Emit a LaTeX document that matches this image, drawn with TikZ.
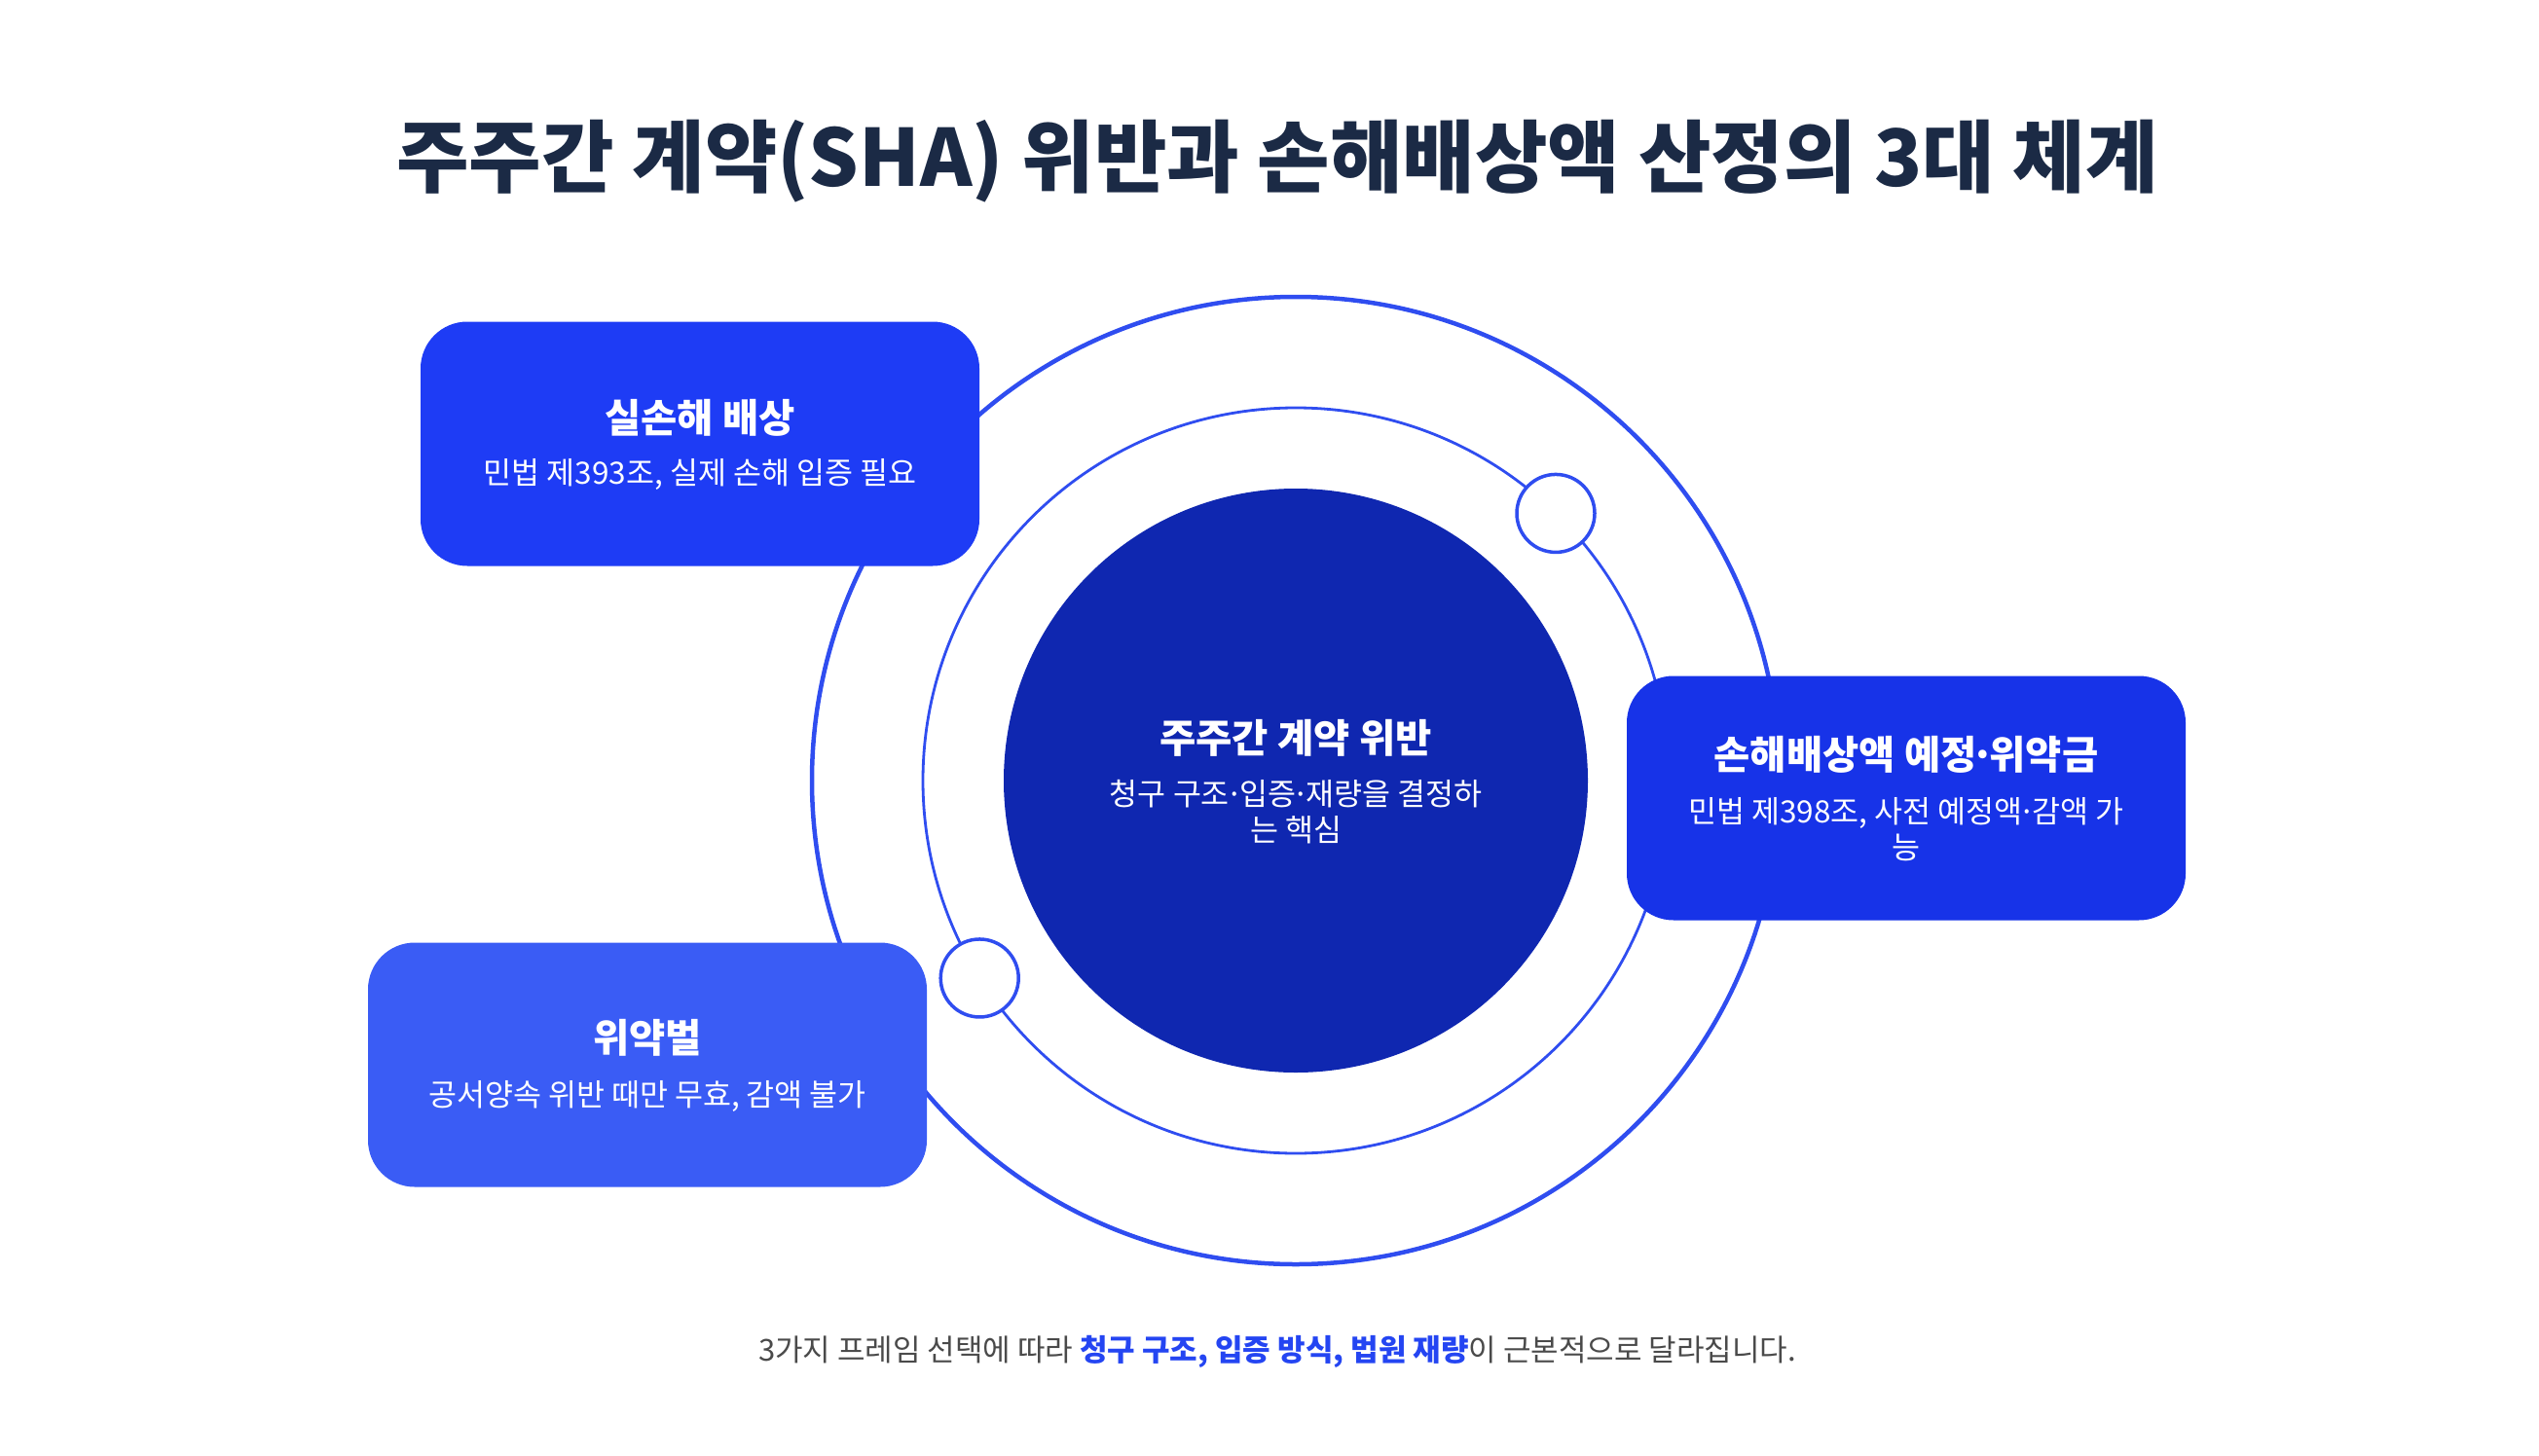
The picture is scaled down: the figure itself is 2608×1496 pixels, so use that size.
\documentclass[tikz,border=0pt]{standalone}
\usepackage{fontspec}
\setmainfont{Noto Sans CJK KR}
\definecolor{ink}{HTML}{1B2A45}
\definecolor{ring}{HTML}{2F4DF0}
\definecolor{core}{HTML}{0F27B0}
\definecolor{boxa}{HTML}{1E3CF5}
\definecolor{boxb}{HTML}{1733E8}
\definecolor{boxc}{HTML}{3A5CF5}
\definecolor{note}{HTML}{4A4A4A}
\definecolor{accent}{HTML}{2445F2}
\newcommand{\middot}{\makebox[0.32em][c]{·}}

\begin{document}
\begin{tikzpicture}[x=1pt,y=-1pt,
  every node/.style={inner sep=0pt,outer sep=0pt},
  orbit/.style={circle,draw=ring,minimum size=#1},
  card/.style={rounded corners=48pt,fill=#1,minimum width=574pt,minimum height=251pt},
  head/.style={text=white,font=\fontsize{40.5}{48}\selectfont\bfseries},
  sub/.style={text=white,align=center,font=\fontsize{31.5}{37}\selectfont},
  knot/.style={circle,draw=ring,line width=3.5pt,fill=white,minimum size=80pt}]
\useasboundingbox (0,0) rectangle (2608,1496);

\node[text=ink,font=\fontsize{81}{92}\selectfont\bfseries] (title) at (1312,166)
  {주주간 계약(SHA) 위반과 손해배상액 산정의 3대 체계};

\node[orbit=994pt,line width=4.5pt] (outer) at (1331,802) {};
\node[orbit=766pt,line width=2.8pt] (inner) at (outer) {};
\node[circle,fill=core,minimum size=600pt] (hub) at (outer) {};
\node[head] (hubhead) at (1331,758) {주주간 계약 위반};
\node[sub] (hubsub) at (1331,834) {청구 구조\middot 입증\middot 재량을 결정하\\는 핵심};

\node[card=boxa] (card1) at (719,456) {};
\node[head] (head1) at (719,429) {실손해 배상};
\node[sub] (sub1) at (719,487) {민법 제393조, 실제 손해 입증 필요};

\node[card=boxb] (card2) at (1958,820) {};
\node[head] (head2) at (1958,775) {손해배상액 예정\middot 위약금};
\node[sub] (sub2) at (1958,852) {민법 제398조, 사전 예정액\middot 감액 가\\능};

\node[card=boxc] (card3) at (665,1094) {};
\node[head] (head3) at (665,1066) {위약벌};
\node[sub] (sub3) at (665,1126) {공서양속 위반 때만 무효, 감액 불가};

\path (hub) ++ (-45.8:383) node[knot] (knot1) {};
\path (hub) ++ (148:383) node[knot] (knot2) {};

\node[text=note,font=\fontsize{31}{36}\selectfont] (footer) at (1312,1389)
  {3가지 프레임 선택에 따라 {\bfseries\color{accent}청구 구조, 입증 방식, 법원 재량}이 근본적으로 달라집니다.};
\end{tikzpicture}
\end{document}
